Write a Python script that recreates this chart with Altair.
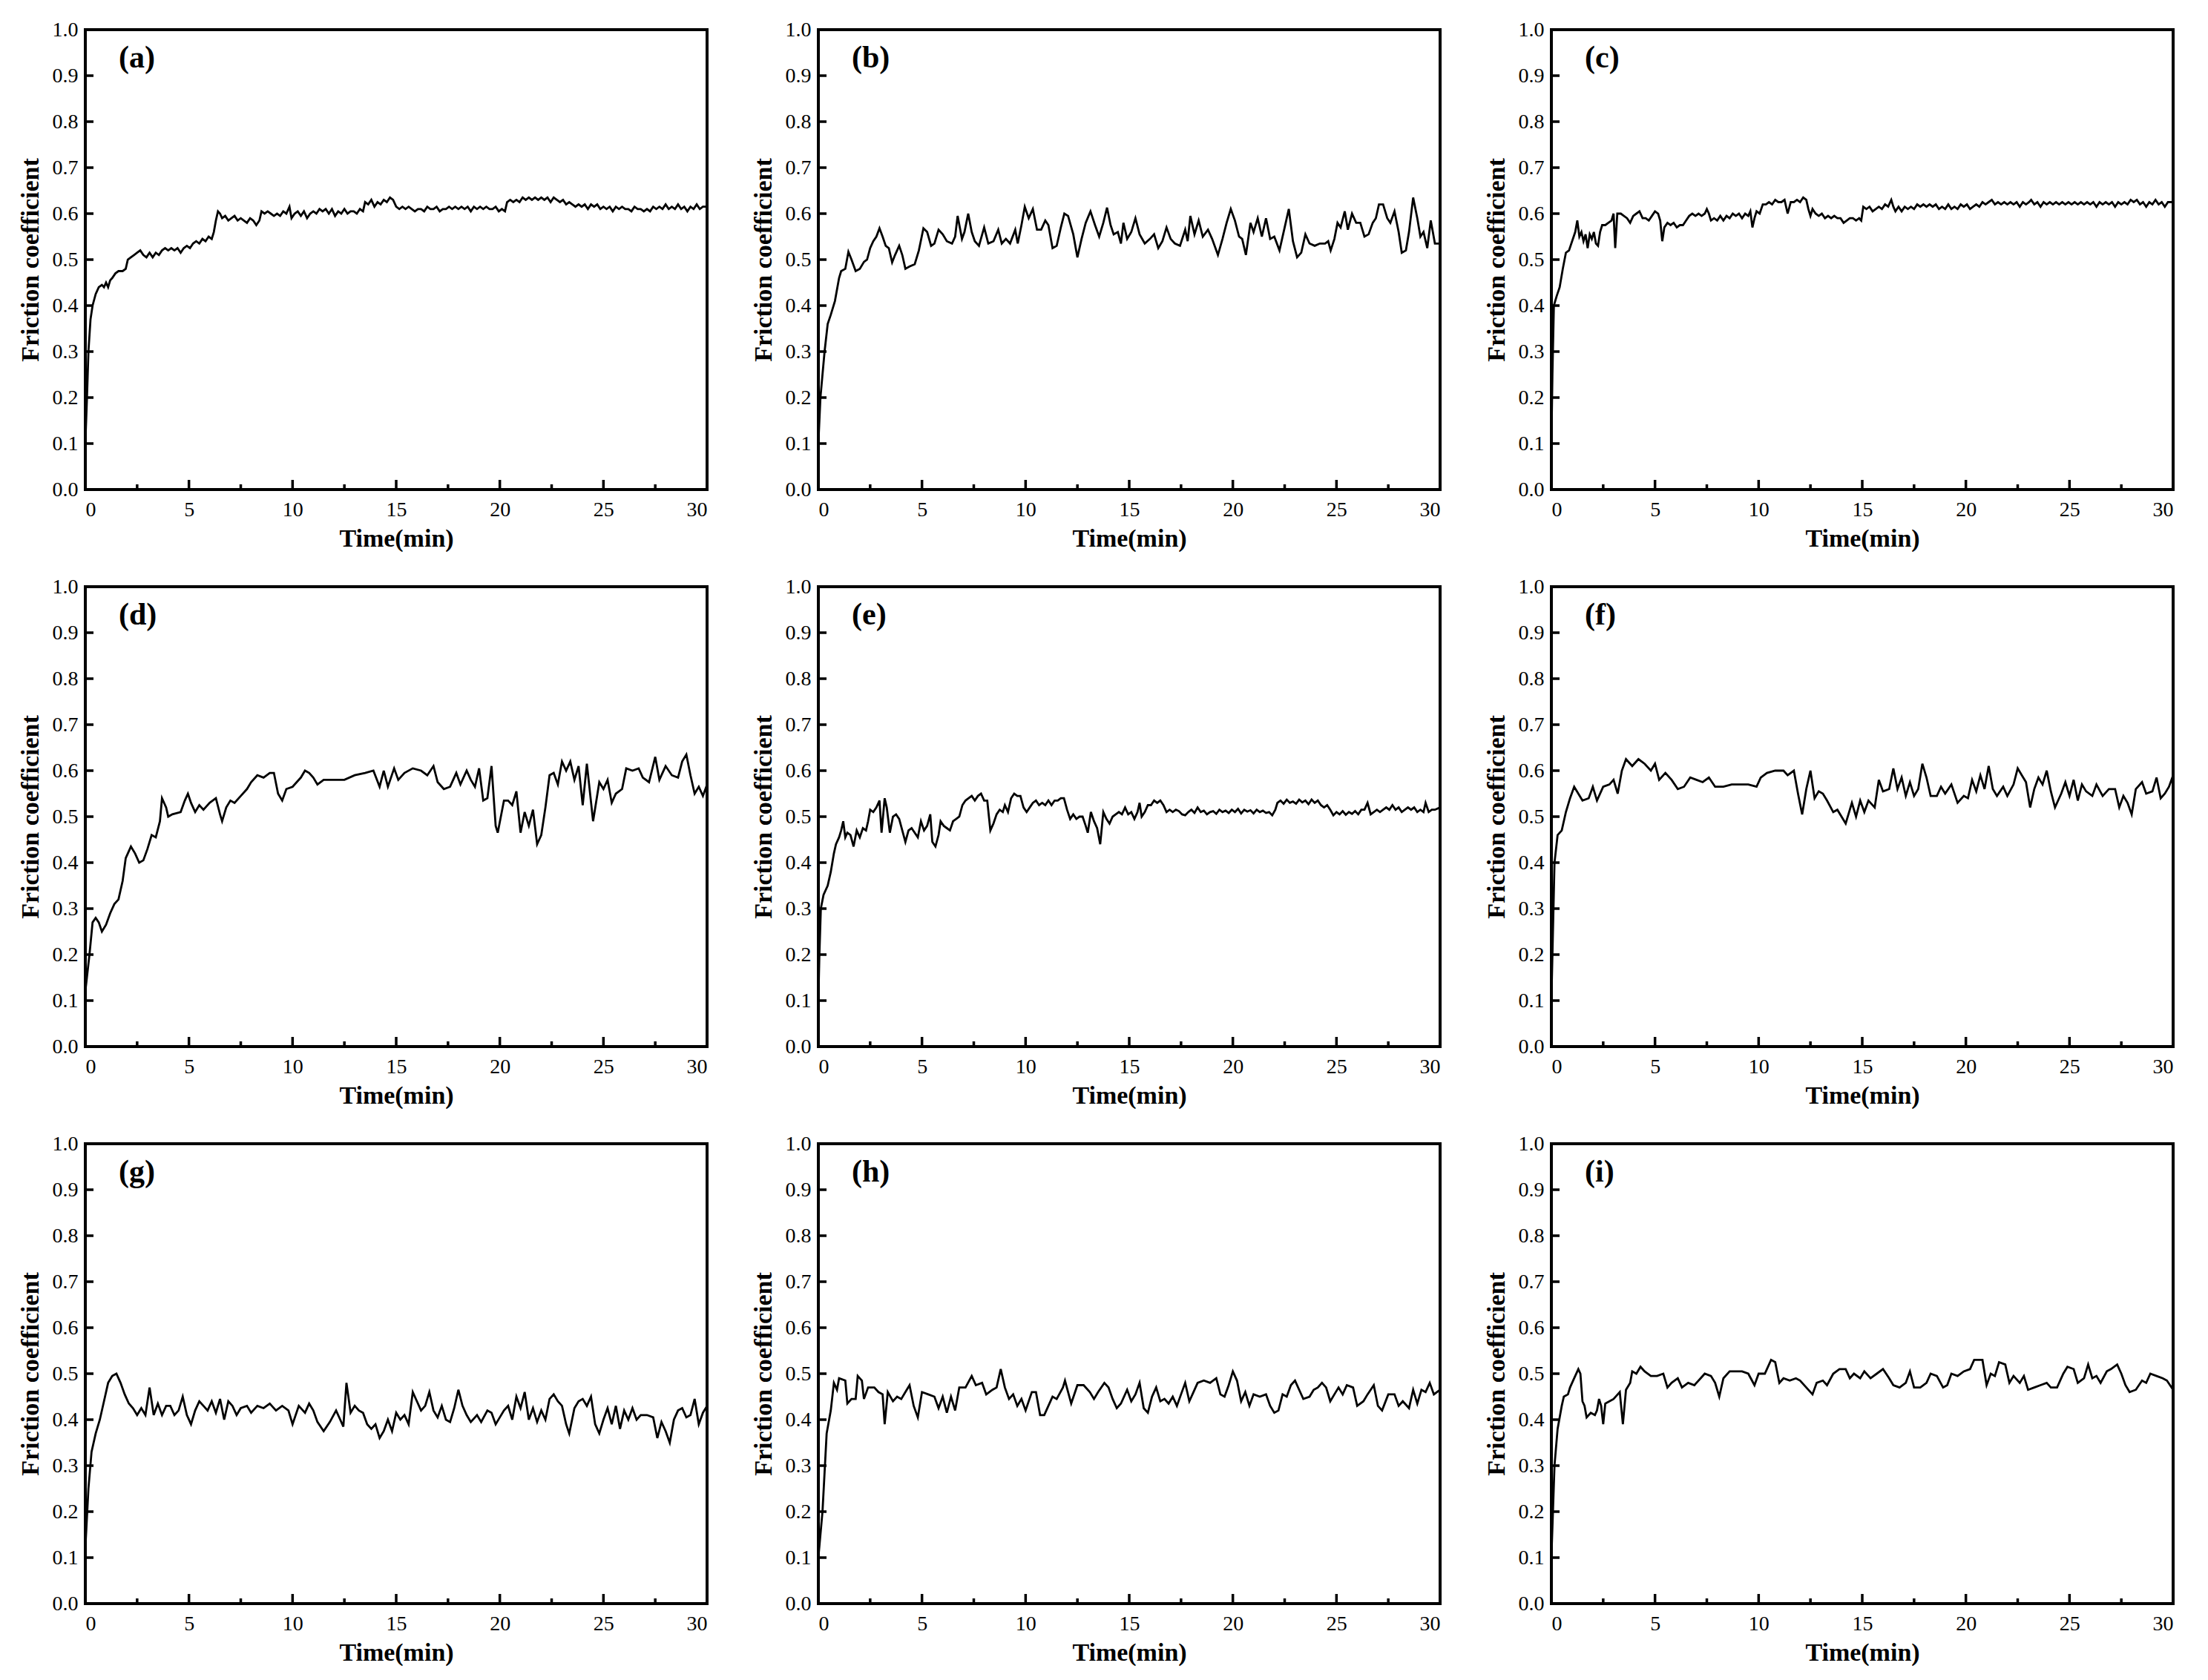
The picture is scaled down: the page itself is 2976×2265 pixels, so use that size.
import altair as alt
import pandas as pd

# ---------------- data ----------------
PANEL_LABELS = ["(a)", "(b)", "(c)", "(d)", "(e)", "(f)", "(g)", "(h)", "(i)"]
X_MAJOR = [0, 5, 10, 15, 20, 25, 30]
X_MINOR = [2.5, 7.5, 12.5, 17.5, 22.5, 27.5]
Y_TICKS = [0.0, 0.1, 0.2, 0.3, 0.4, 0.5, 0.6, 0.7, 0.8, 0.9, 1.0]

series_a = [(0,0.10),(0.08,0.2),(0.15,0.3),(0.25,0.37),(0.35,0.40),(0.5,0.425),(0.65,0.44),(0.8,0.445),(0.9,0.44),(1.0,0.45),(1.1,0.44),(1.2,0.455),(1.3,0.46),(1.45,0.47),(1.6,0.475),(1.8,0.475),(1.95,0.48),(2.05,0.50),(2.2,0.505),(2.35,0.51),(2.5,0.515),(2.65,0.52),(2.8,0.51),(2.95,0.505),(3.1,0.515),(3.25,0.505),(3.4,0.515),(3.55,0.51),(3.7,0.52),(3.85,0.525),(4.0,0.52),(4.15,0.525),(4.3,0.52),(4.45,0.525),(4.6,0.515),(4.75,0.525),(4.9,0.53),(5.05,0.525),(5.2,0.535),(5.35,0.54),(5.5,0.535),(5.65,0.545),(5.8,0.54),(5.95,0.55),(6.1,0.545),(6.2,0.56),(6.3,0.585),(6.4,0.605),(6.5,0.60),(6.6,0.59),(6.75,0.595),(6.9,0.585),(7.05,0.59),(7.2,0.595),(7.35,0.585),(7.5,0.59),(7.65,0.585),(7.8,0.58),(7.95,0.59),(8.1,0.585),(8.25,0.575),(8.4,0.585),(8.5,0.605),(8.65,0.60),(8.8,0.605),(8.95,0.60),(9.1,0.595),(9.25,0.60),(9.4,0.595),(9.55,0.605),(9.7,0.60),(9.85,0.615),(9.95,0.59),(10.1,0.60),(10.25,0.605),(10.4,0.595),(10.55,0.605),(10.7,0.59),(10.85,0.60),(11.0,0.605),(11.15,0.60),(11.3,0.61),(11.45,0.605),(11.6,0.61),(11.75,0.60),(11.9,0.61),(12.05,0.595),(12.2,0.605),(12.35,0.60),(12.5,0.61),(12.65,0.60),(12.8,0.605),(12.95,0.605),(13.1,0.60),(13.25,0.61),(13.4,0.605),(13.5,0.625),(13.65,0.62),(13.8,0.63),(13.95,0.615),(14.1,0.625),(14.25,0.62),(14.4,0.63),(14.55,0.625),(14.7,0.635),(14.85,0.63),(15.0,0.615),(15.15,0.61),(15.3,0.615),(15.45,0.61),(15.6,0.615),(15.75,0.61),(15.9,0.605),(16.05,0.61),(16.2,0.61),(16.35,0.605),(16.5,0.615),(16.65,0.61),(16.8,0.61),(16.95,0.615),(17.1,0.605),(17.25,0.61),(17.4,0.61),(17.55,0.615),(17.7,0.61),(17.85,0.615),(18.0,0.61),(18.15,0.615),(18.3,0.61),(18.45,0.615),(18.6,0.605),(18.75,0.615),(18.9,0.61),(19.05,0.615),(19.2,0.61),(19.35,0.615),(19.5,0.61),(19.65,0.61),(19.8,0.615),(19.95,0.605),(20.1,0.61),(20.25,0.605),(20.35,0.625),(20.5,0.63),(20.65,0.625),(20.8,0.63),(20.95,0.625),(21.1,0.635),(21.25,0.63),(21.4,0.635),(21.55,0.63),(21.7,0.635),(21.85,0.63),(22.0,0.635),(22.15,0.63),(22.3,0.635),(22.45,0.625),(22.6,0.635),(22.75,0.63),(22.9,0.625),(23.05,0.63),(23.2,0.62),(23.35,0.625),(23.5,0.62),(23.65,0.615),(23.8,0.62),(23.95,0.615),(24.1,0.62),(24.25,0.61),(24.4,0.62),(24.55,0.615),(24.7,0.62),(24.85,0.61),(25.0,0.615),(25.15,0.61),(25.3,0.615),(25.45,0.605),(25.6,0.615),(25.75,0.61),(25.9,0.615),(26.05,0.61),(26.2,0.61),(26.35,0.605),(26.5,0.615),(26.65,0.61),(26.8,0.61),(26.95,0.605),(27.1,0.61),(27.25,0.605),(27.4,0.615),(27.55,0.61),(27.7,0.615),(27.85,0.61),(28.0,0.62),(28.15,0.61),(28.3,0.615),(28.45,0.61),(28.6,0.62),(28.75,0.61),(28.9,0.615),(29.05,0.605),(29.2,0.615),(29.35,0.61),(29.5,0.62),(29.65,0.61),(29.8,0.615),(30.0,0.615)]

series_b = [(0,0.10),(0.1,0.2),(0.3,0.30),(0.45,0.36),(0.6,0.38),(0.8,0.41),(1.0,0.46),(1.1,0.475),(1.3,0.48),(1.45,0.517),(1.6,0.50),(1.8,0.475),(2.0,0.48),(2.2,0.495),(2.35,0.50),(2.5,0.525),(2.65,0.54),(2.8,0.55),(2.95,0.568),(3.1,0.55),(3.25,0.53),(3.4,0.525),(3.56,0.494),(3.7,0.51),(3.9,0.53),(4.05,0.51),(4.2,0.48),(4.4,0.485),(4.65,0.49),(4.85,0.52),(5.07,0.568),(5.25,0.56),(5.44,0.53),(5.6,0.535),(5.8,0.565),(6.0,0.555),(6.2,0.54),(6.45,0.535),(6.6,0.55),(6.72,0.595),(6.93,0.545),(7.05,0.56),(7.23,0.60),(7.4,0.56),(7.55,0.54),(7.75,0.53),(8.0,0.57),(8.2,0.535),(8.45,0.54),(8.68,0.565),(8.85,0.535),(9.05,0.545),(9.25,0.535),(9.5,0.565),(9.62,0.535),(9.8,0.575),(9.96,0.615),(10.15,0.59),(10.35,0.61),(10.55,0.565),(10.75,0.565),(10.95,0.585),(11.1,0.575),(11.3,0.525),(11.5,0.53),(11.7,0.57),(11.87,0.60),(12.05,0.595),(12.3,0.555),(12.5,0.505),(12.7,0.545),(12.9,0.58),(13.13,0.605),(13.35,0.575),(13.55,0.55),(13.75,0.58),(13.93,0.613),(14.1,0.575),(14.25,0.555),(14.45,0.56),(14.6,0.535),(14.72,0.58),(14.9,0.545),(15.1,0.56),(15.3,0.59),(15.5,0.555),(15.75,0.535),(16.0,0.545),(16.2,0.555),(16.4,0.525),(16.6,0.54),(16.8,0.57),(17.0,0.545),(17.2,0.535),(17.45,0.53),(17.7,0.565),(17.82,0.54),(17.95,0.595),(18.15,0.555),(18.35,0.585),(18.55,0.55),(18.8,0.565),(19.0,0.545),(19.28,0.51),(19.5,0.545),(19.7,0.58),(19.9,0.61),(20.1,0.585),(20.3,0.55),(20.45,0.545),(20.63,0.51),(20.85,0.58),(21.0,0.56),(21.2,0.59),(21.4,0.55),(21.6,0.59),(21.8,0.545),(22.0,0.55),(22.25,0.52),(22.5,0.57),(22.7,0.61),(22.9,0.54),(23.1,0.505),(23.3,0.515),(23.5,0.555),(23.7,0.535),(23.95,0.53),(24.2,0.535),(24.45,0.535),(24.6,0.54),(24.72,0.52),(24.9,0.545),(25.05,0.58),(25.2,0.57),(25.4,0.605),(25.55,0.565),(25.75,0.60),(25.95,0.58),(26.15,0.58),(26.35,0.55),(26.55,0.555),(26.75,0.58),(26.9,0.59),(27.05,0.62),(27.25,0.62),(27.45,0.59),(27.6,0.58),(27.8,0.605),(28.0,0.56),(28.15,0.515),(28.35,0.52),(28.5,0.56),(28.7,0.635),(28.9,0.59),(29.05,0.55),(29.2,0.56),(29.38,0.525),(29.55,0.585),(29.75,0.535),(30.0,0.535)]

series_c = [(0,0.1),(0.05,0.25),(0.12,0.40),(0.25,0.42),(0.4,0.44),(0.55,0.48),(0.7,0.515),(0.85,0.52),(1.0,0.54),(1.15,0.56),(1.25,0.585),(1.35,0.55),(1.45,0.56),(1.55,0.54),(1.65,0.555),(1.75,0.525),(1.85,0.555),(1.95,0.545),(2.05,0.56),(2.15,0.535),(2.25,0.53),(2.35,0.56),(2.45,0.575),(2.6,0.575),(2.75,0.58),(2.9,0.585),(3.0,0.60),(3.08,0.525),(3.18,0.60),(3.35,0.60),(3.5,0.595),(3.65,0.59),(3.8,0.58),(3.95,0.595),(4.1,0.60),(4.25,0.605),(4.4,0.59),(4.55,0.59),(4.7,0.585),(4.85,0.595),(5.0,0.605),(5.15,0.60),(5.25,0.585),(5.35,0.54),(5.45,0.57),(5.6,0.58),(5.75,0.575),(5.9,0.58),(6.05,0.57),(6.2,0.575),(6.35,0.575),(6.5,0.585),(6.65,0.595),(6.8,0.60),(6.95,0.595),(7.1,0.60),(7.25,0.595),(7.4,0.60),(7.5,0.61),(7.6,0.60),(7.7,0.585),(7.85,0.59),(8.0,0.585),(8.15,0.595),(8.3,0.585),(8.45,0.595),(8.6,0.59),(8.75,0.60),(8.9,0.595),(9.05,0.60),(9.2,0.59),(9.35,0.60),(9.5,0.595),(9.6,0.605),(9.7,0.57),(9.8,0.59),(9.9,0.605),(10.05,0.60),(10.2,0.62),(10.35,0.62),(10.5,0.625),(10.65,0.62),(10.8,0.63),(10.95,0.625),(11.1,0.625),(11.25,0.63),(11.4,0.60),(11.55,0.625),(11.7,0.625),(11.85,0.63),(12.0,0.625),(12.15,0.635),(12.3,0.63),(12.4,0.61),(12.5,0.595),(12.6,0.61),(12.75,0.60),(12.9,0.595),(13.05,0.60),(13.2,0.59),(13.35,0.595),(13.5,0.59),(13.65,0.595),(13.8,0.59),(13.95,0.59),(14.1,0.58),(14.25,0.585),(14.4,0.59),(14.55,0.59),(14.7,0.585),(14.85,0.59),(14.95,0.585),(15.05,0.615),(15.2,0.61),(15.35,0.615),(15.5,0.605),(15.65,0.61),(15.8,0.615),(15.95,0.61),(16.1,0.62),(16.25,0.615),(16.4,0.63),(16.5,0.615),(16.6,0.605),(16.75,0.615),(16.9,0.605),(17.05,0.615),(17.2,0.61),(17.35,0.615),(17.5,0.61),(17.65,0.62),(17.8,0.615),(17.95,0.62),(18.1,0.615),(18.25,0.62),(18.4,0.615),(18.55,0.62),(18.7,0.61),(18.85,0.615),(19.0,0.61),(19.15,0.62),(19.3,0.61),(19.45,0.615),(19.6,0.61),(19.75,0.62),(19.9,0.615),(20.05,0.62),(20.2,0.61),(20.35,0.615),(20.5,0.62),(20.65,0.615),(20.8,0.625),(20.95,0.62),(21.1,0.625),(21.25,0.63),(21.4,0.62),(21.55,0.625),(21.7,0.62),(21.85,0.625),(22.0,0.62),(22.15,0.625),(22.3,0.62),(22.45,0.625),(22.6,0.615),(22.75,0.625),(22.9,0.62),(23.05,0.625),(23.15,0.63),(23.3,0.62),(23.45,0.625),(23.6,0.615),(23.75,0.625),(23.9,0.62),(24.05,0.625),(24.2,0.62),(24.35,0.625),(24.5,0.62),(24.65,0.625),(24.8,0.62),(24.95,0.625),(25.1,0.62),(25.25,0.625),(25.4,0.62),(25.55,0.625),(25.7,0.62),(25.85,0.625),(26.0,0.62),(26.15,0.625),(26.3,0.615),(26.45,0.625),(26.6,0.62),(26.75,0.625),(26.9,0.62),(27.05,0.625),(27.2,0.615),(27.35,0.625),(27.5,0.62),(27.65,0.625),(27.8,0.62),(27.95,0.63),(28.1,0.625),(28.25,0.63),(28.4,0.62),(28.55,0.625),(28.7,0.615),(28.85,0.625),(29.0,0.62),(29.15,0.63),(29.3,0.62),(29.45,0.625),(29.6,0.615),(29.75,0.625),(30.0,0.625)]

series_d = [(0,0.12),(0.2,0.2),(0.35,0.27),(0.5,0.28),(0.65,0.27),(0.8,0.25),(1.0,0.265),(1.2,0.29),(1.4,0.31),(1.6,0.32),(1.8,0.36),(1.95,0.41),(2.2,0.435),(2.4,0.42),(2.6,0.40),(2.8,0.405),(3.0,0.43),(3.2,0.46),(3.4,0.455),(3.6,0.49),(3.7,0.54),(3.9,0.52),(4.0,0.50),(4.2,0.505),(4.6,0.51),(4.8,0.535),(4.95,0.55),(5.1,0.53),(5.3,0.51),(5.5,0.525),(5.7,0.515),(6.0,0.53),(6.3,0.54),(6.5,0.505),(6.6,0.49),(6.8,0.52),(7.0,0.535),(7.2,0.53),(7.5,0.545),(7.8,0.56),(8.0,0.575),(8.3,0.59),(8.6,0.585),(8.9,0.595),(9.1,0.595),(9.3,0.55),(9.5,0.535),(9.7,0.56),(10.0,0.565),(10.2,0.575),(10.4,0.585),(10.6,0.60),(10.8,0.595),(11.0,0.585),(11.2,0.57),(11.5,0.58),(12.0,0.58),(12.5,0.58),(13.0,0.59),(13.5,0.595),(13.9,0.60),(14.2,0.565),(14.4,0.60),(14.6,0.565),(14.9,0.605),(15.1,0.58),(15.4,0.595),(15.8,0.605),(16.2,0.60),(16.5,0.59),(16.8,0.61),(17.0,0.575),(17.3,0.56),(17.6,0.565),(17.9,0.595),(18.1,0.57),(18.4,0.60),(18.6,0.58),(18.8,0.565),(19.0,0.605),(19.2,0.535),(19.4,0.54),(19.6,0.61),(19.8,0.48),(19.9,0.465),(20.2,0.535),(20.4,0.535),(20.6,0.525),(20.8,0.555),(21.0,0.465),(21.2,0.51),(21.4,0.48),(21.6,0.515),(21.8,0.44),(22.0,0.46),(22.2,0.52),(22.4,0.59),(22.6,0.595),(22.8,0.57),(23.0,0.62),(23.2,0.60),(23.4,0.62),(23.6,0.58),(23.8,0.61),(24.0,0.525),(24.2,0.615),(24.5,0.49),(24.8,0.575),(25.0,0.56),(25.2,0.58),(25.4,0.53),(25.6,0.55),(25.9,0.56),(26.1,0.605),(26.4,0.60),(26.7,0.605),(26.9,0.585),(27.2,0.575),(27.5,0.63),(27.7,0.58),(28.0,0.61),(28.3,0.59),(28.6,0.585),(28.8,0.62),(29.0,0.635),(29.2,0.59),(29.4,0.55),(29.6,0.565),(29.8,0.545),(30.0,0.57)]

series_e = [(0,0.10),(0.05,0.2),(0.12,0.30),(0.25,0.33),(0.45,0.35),(0.6,0.38),(0.75,0.42),(0.85,0.44),(1.0,0.455),(1.1,0.47),(1.2,0.49),(1.3,0.455),(1.4,0.465),(1.55,0.46),(1.7,0.435),(1.85,0.47),(2.0,0.455),(2.15,0.475),(2.3,0.47),(2.4,0.49),(2.5,0.515),(2.65,0.51),(2.8,0.52),(2.95,0.535),(3.05,0.465),(3.2,0.54),(3.3,0.52),(3.45,0.465),(3.6,0.50),(3.75,0.505),(3.9,0.495),(4.05,0.47),(4.2,0.445),(4.35,0.47),(4.5,0.475),(4.65,0.465),(4.8,0.455),(4.95,0.49),(5.1,0.47),(5.25,0.48),(5.4,0.505),(5.5,0.445),(5.65,0.435),(5.8,0.46),(5.9,0.49),(6.05,0.48),(6.2,0.475),(6.35,0.47),(6.5,0.49),(6.65,0.495),(6.8,0.50),(6.95,0.525),(7.1,0.535),(7.25,0.54),(7.4,0.545),(7.55,0.535),(7.7,0.545),(7.85,0.55),(8.0,0.535),(8.15,0.535),(8.3,0.47),(8.45,0.485),(8.6,0.505),(8.75,0.515),(8.9,0.51),(9.0,0.525),(9.15,0.51),(9.3,0.54),(9.45,0.55),(9.6,0.545),(9.75,0.545),(9.9,0.52),(10.05,0.51),(10.2,0.52),(10.35,0.53),(10.5,0.535),(10.65,0.525),(10.8,0.53),(10.95,0.525),(11.1,0.535),(11.25,0.525),(11.4,0.535),(11.55,0.535),(11.7,0.54),(11.85,0.54),(12.0,0.515),(12.15,0.495),(12.3,0.505),(12.45,0.495),(12.6,0.50),(12.75,0.50),(12.9,0.48),(13.0,0.465),(13.15,0.51),(13.3,0.49),(13.45,0.475),(13.6,0.44),(13.75,0.51),(13.9,0.495),(14.05,0.485),(14.2,0.50),(14.35,0.505),(14.5,0.51),(14.65,0.505),(14.8,0.52),(14.95,0.505),(15.1,0.51),(15.25,0.495),(15.4,0.51),(15.5,0.53),(15.6,0.50),(15.75,0.51),(15.9,0.525),(16.05,0.525),(16.2,0.535),(16.35,0.53),(16.5,0.535),(16.65,0.525),(16.8,0.51),(16.95,0.515),(17.1,0.51),(17.25,0.515),(17.4,0.512),(17.55,0.505),(17.7,0.503),(17.85,0.51),(18.0,0.515),(18.15,0.508),(18.3,0.52),(18.45,0.51),(18.6,0.513),(18.75,0.505),(18.9,0.51),(19.05,0.512),(19.2,0.506),(19.35,0.515),(19.5,0.51),(19.65,0.513),(19.8,0.508),(19.95,0.515),(20.1,0.51),(20.25,0.517),(20.4,0.507),(20.55,0.515),(20.7,0.511),(20.85,0.514),(21.0,0.507),(21.15,0.515),(21.3,0.51),(21.45,0.513),(21.6,0.508),(21.75,0.51),(21.9,0.503),(22.05,0.515),(22.15,0.53),(22.3,0.535),(22.45,0.528),(22.6,0.537),(22.75,0.53),(22.9,0.533),(23.05,0.528),(23.2,0.537),(23.35,0.531),(23.5,0.535),(23.65,0.527),(23.8,0.537),(23.95,0.53),(24.1,0.535),(24.25,0.525),(24.4,0.52),(24.55,0.525),(24.7,0.515),(24.85,0.503),(25.0,0.51),(25.15,0.505),(25.3,0.512),(25.45,0.504),(25.6,0.51),(25.75,0.506),(25.9,0.512),(26.05,0.505),(26.2,0.515),(26.35,0.515),(26.5,0.53),(26.65,0.505),(26.8,0.51),(26.95,0.515),(27.1,0.51),(27.25,0.515),(27.4,0.52),(27.55,0.515),(27.7,0.525),(27.85,0.515),(28.0,0.52),(28.15,0.51),(28.3,0.515),(28.45,0.52),(28.6,0.515),(28.75,0.52),(28.9,0.51),(29.05,0.515),(29.2,0.51),(29.3,0.53),(29.45,0.51),(29.6,0.515),(29.75,0.515),(30.0,0.52)]

series_f = [(0,0.10),(0.15,0.40),(0.3,0.46),(0.5,0.47),(0.7,0.51),(0.9,0.54),(1.1,0.565),(1.3,0.55),(1.5,0.535),(1.8,0.54),(2.0,0.565),(2.2,0.535),(2.5,0.565),(2.8,0.57),(3.0,0.58),(3.2,0.55),(3.4,0.60),(3.6,0.625),(3.9,0.61),(4.2,0.625),(4.5,0.615),(4.8,0.60),(5.0,0.615),(5.2,0.58),(5.5,0.595),(5.8,0.58),(6.1,0.56),(6.4,0.565),(6.7,0.585),(7.0,0.58),(7.3,0.575),(7.6,0.585),(7.9,0.565),(8.3,0.565),(8.7,0.57),(9.1,0.57),(9.5,0.57),(9.9,0.565),(10.1,0.585),(10.4,0.595),(10.8,0.60),(11.2,0.60),(11.4,0.59),(11.7,0.60),(11.9,0.55),(12.1,0.505),(12.3,0.56),(12.5,0.60),(12.7,0.54),(12.9,0.555),(13.1,0.55),(13.3,0.535),(13.6,0.51),(13.8,0.515),(14.0,0.50),(14.2,0.485),(14.5,0.53),(14.7,0.50),(14.9,0.535),(15.1,0.51),(15.3,0.535),(15.6,0.52),(15.8,0.58),(16.0,0.555),(16.3,0.56),(16.5,0.605),(16.7,0.56),(16.9,0.585),(17.1,0.545),(17.3,0.575),(17.5,0.545),(17.7,0.56),(17.9,0.615),(18.1,0.585),(18.3,0.545),(18.6,0.545),(18.8,0.565),(19.0,0.55),(19.3,0.57),(19.6,0.53),(19.9,0.545),(20.1,0.54),(20.3,0.58),(20.5,0.555),(20.7,0.59),(20.9,0.56),(21.1,0.61),(21.3,0.56),(21.5,0.545),(21.8,0.565),(22.0,0.545),(22.3,0.57),(22.5,0.605),(22.7,0.59),(22.9,0.575),(23.1,0.52),(23.3,0.56),(23.5,0.585),(23.7,0.57),(23.9,0.60),(24.1,0.555),(24.3,0.52),(24.6,0.55),(24.8,0.575),(25.0,0.545),(25.2,0.58),(25.4,0.535),(25.6,0.57),(25.8,0.555),(26.1,0.545),(26.3,0.57),(26.6,0.545),(26.9,0.56),(27.2,0.56),(27.4,0.52),(27.6,0.545),(27.8,0.53),(28.0,0.505),(28.2,0.56),(28.5,0.575),(28.7,0.55),(29.0,0.555),(29.2,0.585),(29.4,0.54),(29.6,0.55),(29.8,0.565),(30.0,0.59)]

series_g = [(0,0.12),(0.15,0.25),(0.3,0.33),(0.5,0.37),(0.7,0.40),(0.9,0.44),(1.1,0.48),(1.3,0.495),(1.5,0.50),(1.7,0.48),(1.9,0.455),(2.1,0.435),(2.3,0.425),(2.5,0.41),(2.7,0.425),(2.9,0.41),(3.1,0.47),(3.3,0.41),(3.5,0.435),(3.7,0.41),(3.9,0.43),(4.1,0.43),(4.3,0.41),(4.5,0.42),(4.7,0.45),(4.9,0.41),(5.1,0.39),(5.3,0.42),(5.5,0.44),(5.7,0.43),(5.9,0.42),(6.1,0.44),(6.3,0.415),(6.5,0.445),(6.7,0.40),(6.9,0.44),(7.1,0.43),(7.3,0.41),(7.5,0.425),(7.8,0.43),(8.0,0.415),(8.3,0.43),(8.6,0.425),(8.9,0.435),(9.2,0.42),(9.5,0.43),(9.8,0.42),(10.0,0.39),(10.3,0.43),(10.6,0.415),(10.8,0.435),(11.0,0.42),(11.2,0.395),(11.5,0.375),(11.8,0.395),(12.1,0.42),(12.3,0.40),(12.45,0.385),(12.6,0.48),(12.8,0.415),(13.0,0.43),(13.2,0.42),(13.4,0.415),(13.6,0.39),(13.8,0.38),(14.0,0.39),(14.2,0.36),(14.4,0.375),(14.6,0.40),(14.8,0.375),(15.0,0.415),(15.2,0.40),(15.4,0.41),(15.6,0.39),(15.8,0.46),(16.0,0.44),(16.2,0.42),(16.4,0.43),(16.6,0.46),(16.8,0.42),(17.0,0.405),(17.2,0.43),(17.4,0.40),(17.6,0.395),(17.8,0.425),(18.0,0.465),(18.2,0.43),(18.4,0.41),(18.6,0.395),(18.9,0.41),(19.1,0.395),(19.4,0.42),(19.6,0.415),(19.8,0.39),(20.0,0.405),(20.2,0.42),(20.4,0.43),(20.6,0.40),(20.8,0.45),(21.0,0.425),(21.2,0.46),(21.4,0.40),(21.6,0.425),(21.8,0.395),(22.0,0.42),(22.2,0.40),(22.4,0.445),(22.6,0.455),(22.8,0.44),(23.0,0.43),(23.2,0.39),(23.35,0.37),(23.6,0.425),(23.8,0.44),(24.0,0.445),(24.2,0.43),(24.4,0.45),(24.6,0.39),(24.8,0.37),(25.0,0.40),(25.2,0.425),(25.4,0.39),(25.6,0.43),(25.8,0.38),(26.0,0.42),(26.2,0.40),(26.4,0.425),(26.6,0.40),(26.8,0.41),(27.1,0.41),(27.4,0.405),(27.6,0.36),(27.8,0.395),(28.0,0.375),(28.2,0.35),(28.4,0.40),(28.6,0.42),(28.8,0.425),(29.0,0.405),(29.2,0.41),(29.4,0.445),(29.6,0.39),(29.8,0.415),(30.0,0.43)]

series_h = [(0,0.10),(0.2,0.2),(0.4,0.37),(0.6,0.42),(0.75,0.48),(0.9,0.465),(1.0,0.49),(1.3,0.485),(1.4,0.435),(1.6,0.445),(1.8,0.445),(1.9,0.495),(2.1,0.485),(2.2,0.445),(2.4,0.47),(2.7,0.47),(2.9,0.46),(3.1,0.455),(3.2,0.39),(3.35,0.46),(3.6,0.44),(3.8,0.45),(4.0,0.445),(4.2,0.46),(4.4,0.475),(4.6,0.43),(4.8,0.405),(5.0,0.46),(5.3,0.455),(5.6,0.45),(5.8,0.425),(6.0,0.45),(6.2,0.415),(6.4,0.45),(6.6,0.42),(6.8,0.47),(7.1,0.47),(7.4,0.495),(7.6,0.475),(7.9,0.48),(8.1,0.455),(8.4,0.465),(8.6,0.47),(8.8,0.51),(9.0,0.47),(9.2,0.445),(9.4,0.455),(9.6,0.43),(9.8,0.445),(10.0,0.42),(10.3,0.46),(10.5,0.46),(10.7,0.41),(10.9,0.41),(11.1,0.43),(11.3,0.45),(11.5,0.445),(11.8,0.47),(11.9,0.485),(12.2,0.435),(12.5,0.475),(12.8,0.475),(13.1,0.46),(13.3,0.445),(13.5,0.46),(13.8,0.48),(14.0,0.47),(14.2,0.445),(14.4,0.425),(14.6,0.435),(14.9,0.465),(15.1,0.44),(15.3,0.455),(15.5,0.48),(15.7,0.425),(15.9,0.415),(16.1,0.45),(16.3,0.47),(16.5,0.44),(16.7,0.445),(16.9,0.435),(17.1,0.45),(17.3,0.43),(17.5,0.455),(17.7,0.48),(17.9,0.44),(18.1,0.46),(18.3,0.48),(18.6,0.485),(18.9,0.48),(19.2,0.49),(19.4,0.455),(19.6,0.45),(19.8,0.475),(20.0,0.505),(20.2,0.485),(20.4,0.44),(20.6,0.46),(20.8,0.43),(21.0,0.455),(21.3,0.45),(21.6,0.455),(21.8,0.43),(22.0,0.415),(22.2,0.42),(22.4,0.455),(22.6,0.45),(22.8,0.475),(23.0,0.485),(23.2,0.465),(23.4,0.445),(23.7,0.45),(23.9,0.465),(24.1,0.47),(24.3,0.48),(24.5,0.47),(24.7,0.44),(24.9,0.455),(25.1,0.47),(25.3,0.455),(25.5,0.475),(25.8,0.47),(26.0,0.43),(26.3,0.44),(26.5,0.455),(26.8,0.475),(27.0,0.43),(27.2,0.42),(27.5,0.455),(27.8,0.455),(28.0,0.43),(28.2,0.44),(28.5,0.425),(28.7,0.465),(28.9,0.435),(29.1,0.465),(29.3,0.46),(29.5,0.48),(29.7,0.455),(30.0,0.465)]

series_i = [(0,0.10),(0.15,0.30),(0.3,0.38),(0.5,0.43),(0.6,0.45),(0.8,0.455),(0.9,0.47),(1.1,0.49),(1.3,0.51),(1.4,0.50),(1.5,0.44),(1.6,0.43),(1.7,0.405),(1.9,0.415),(2.1,0.41),(2.2,0.42),(2.3,0.445),(2.4,0.43),(2.5,0.39),(2.6,0.435),(2.8,0.44),(3.0,0.445),(3.2,0.455),(3.3,0.46),(3.45,0.39),(3.6,0.465),(3.8,0.48),(3.9,0.505),(4.1,0.50),(4.3,0.515),(4.5,0.505),(4.8,0.495),(5.1,0.495),(5.4,0.50),(5.6,0.47),(5.8,0.48),(6.1,0.49),(6.3,0.47),(6.6,0.48),(6.9,0.475),(7.2,0.49),(7.4,0.50),(7.7,0.495),(7.9,0.48),(8.1,0.45),(8.3,0.49),(8.6,0.505),(8.9,0.505),(9.2,0.505),(9.5,0.50),(9.8,0.475),(10.0,0.50),(10.3,0.50),(10.6,0.53),(10.8,0.525),(11.0,0.48),(11.2,0.49),(11.5,0.485),(11.8,0.49),(12.0,0.485),(12.3,0.47),(12.6,0.455),(12.8,0.48),(13.1,0.485),(13.3,0.475),(13.6,0.50),(13.9,0.51),(14.2,0.51),(14.4,0.49),(14.6,0.50),(14.9,0.49),(15.1,0.505),(15.4,0.49),(15.7,0.50),(16.0,0.51),(16.3,0.49),(16.5,0.475),(16.8,0.47),(17.1,0.48),(17.3,0.505),(17.5,0.47),(17.8,0.47),(18.1,0.48),(18.3,0.50),(18.6,0.495),(18.9,0.47),(19.1,0.475),(19.3,0.50),(19.6,0.495),(19.9,0.505),(20.2,0.51),(20.4,0.53),(20.8,0.53),(21.0,0.475),(21.2,0.50),(21.4,0.495),(21.6,0.525),(21.9,0.52),(22.1,0.48),(22.3,0.495),(22.6,0.48),(22.8,0.495),(23.0,0.465),(23.3,0.47),(23.6,0.475),(23.9,0.48),(24.1,0.47),(24.4,0.47),(24.7,0.50),(24.9,0.515),(25.2,0.51),(25.4,0.48),(25.7,0.49),(25.9,0.52),(26.1,0.49),(26.3,0.495),(26.5,0.48),(26.8,0.505),(27.0,0.51),(27.3,0.52),(27.5,0.50),(27.7,0.475),(27.9,0.46),(28.2,0.465),(28.5,0.485),(28.7,0.48),(28.9,0.50),(29.2,0.495),(29.5,0.49),(29.7,0.485),(30.0,0.465)]

ALL_SERIES = [series_a, series_b, series_c, series_d, series_e,
              series_f, series_g, series_h, series_i]

# ---------------- styling ----------------
W, H = 838, 620
SERIF = "Liberation Serif"
MAJOR_LEN, MINOR_LEN, YTICK_LEN = 13, 7, 11

X_SCALE = alt.Scale(domain=[0, 30], nice=False, zero=False)
Y_SCALE = alt.Scale(domain=[0, 1], nice=False)
X_AXIS = alt.Axis(values=X_MAJOR, title="Time(min)", labelPadding=13,
                  titlePadding=8)
Y_AXIS = alt.Axis(values=Y_TICKS, format=".1f", title="Friction coefficient",
                  labelPadding=10, titlePadding=12)


def panel(points, label):
    df = pd.DataFrame(points, columns=["t", "f"])
    line = alt.Chart(df).mark_line(color="black", strokeWidth=2.8, clip=True).encode(
        x=alt.X("t:Q", scale=X_SCALE, axis=X_AXIS),
        y=alt.Y("f:Q", scale=Y_SCALE, axis=Y_AXIS),
    )
    major = alt.Chart(pd.DataFrame({"t": X_MAJOR})).mark_rule(
        color="black", strokeWidth=3.5).encode(
        x=alt.X("t:Q", scale=X_SCALE, axis=X_AXIS),
        y=alt.value(H), y2=alt.value(H - MAJOR_LEN))
    minor = alt.Chart(pd.DataFrame({"t": X_MINOR})).mark_rule(
        color="black", strokeWidth=3.5).encode(
        x=alt.X("t:Q", scale=X_SCALE, axis=X_AXIS),
        y=alt.value(H), y2=alt.value(H - MINOR_LEN))
    yt = alt.Chart(pd.DataFrame({"f": Y_TICKS})).mark_rule(
        color="black", strokeWidth=3.5).encode(
        y=alt.Y("f:Q", scale=Y_SCALE, axis=Y_AXIS),
        x=alt.value(0), x2=alt.value(YTICK_LEN))
    lab = alt.Chart(pd.DataFrame({"s": [label]})).mark_text(
        align="left", baseline="middle", font=SERIF, fontSize=42,
        fontWeight="bold", color="black").encode(
        text="s:N", x=alt.value(45), y=alt.value(38))
    return alt.layer(line, major, minor, yt, lab).properties(width=W, height=H)


panels = [panel(s, l) for s, l in zip(ALL_SERIES, PANEL_LABELS)]

chart = alt.concat(
    *panels, columns=3, spacing={"row": 131, "column": 150}, bounds="flush"
).properties(
    padding={"left": 14, "top": 16, "right": 10, "bottom": 10},
    background="white",
).configure_view(
    stroke="black", strokeWidth=4
).configure_axis(
    labelFont=SERIF, labelFontSize=28, labelColor="black",
    titleFont=SERIF, titleFontSize=34, titleFontWeight="bold", titleColor="black",
    ticks=False, domain=False, grid=False,
)

chart.save("out.html", embed_options={"renderer": "svg", "actions": False})
